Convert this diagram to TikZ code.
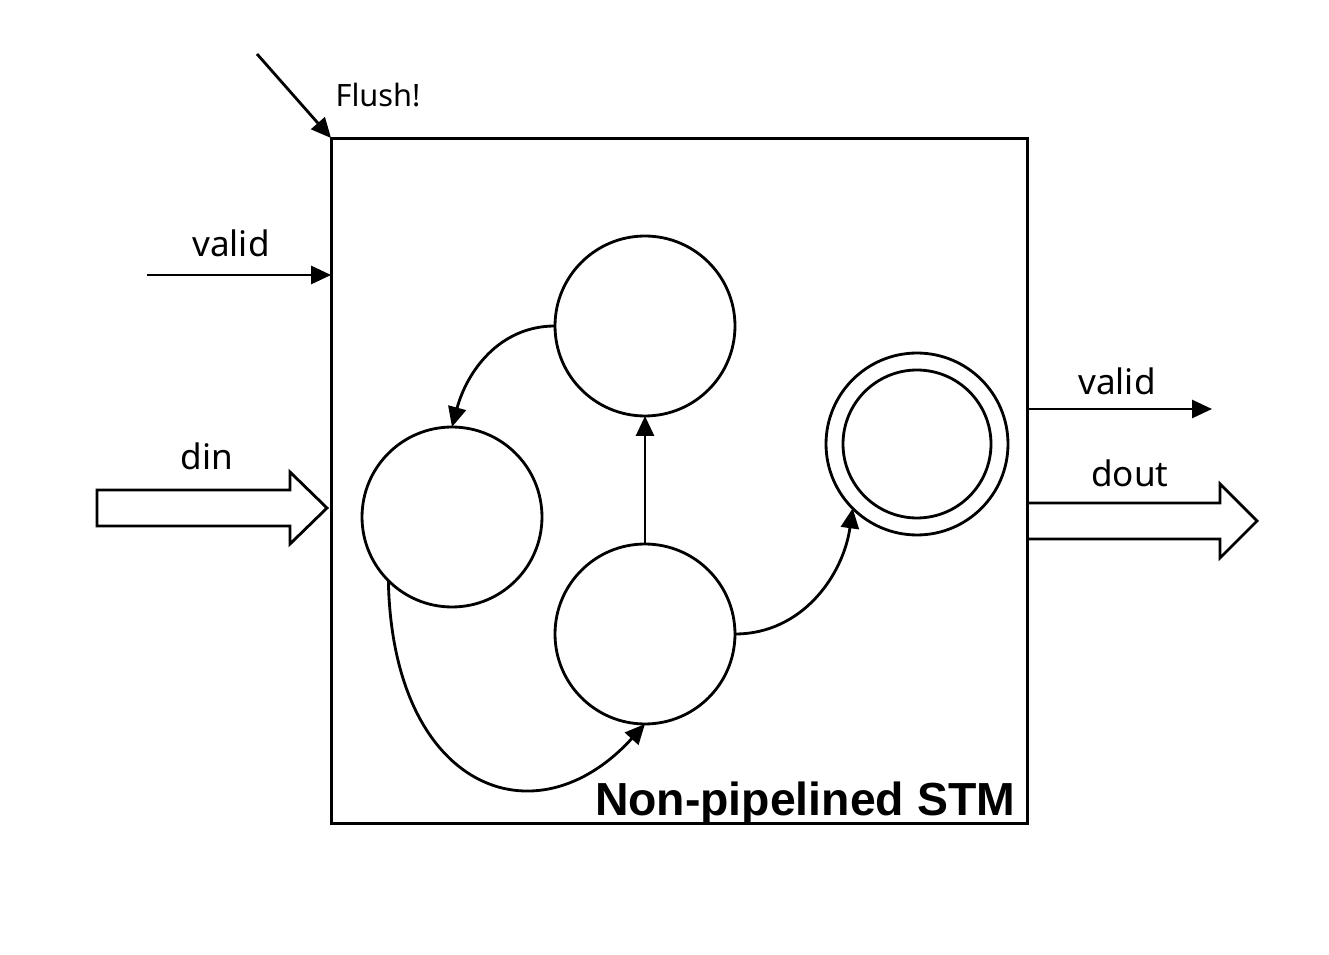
\documentclass[tikz,border=0pt]{standalone}
\usepackage{fontspec}
\setmainfont{Noto Sans}
\newfontfamily\titlefont{Liberation Sans}
\usetikzlibrary{arrows.meta,calc}
\begin{document}
\begin{tikzpicture}[x=0.02cm,y=-0.02cm,
  every node/.style={inner sep=0pt,outer sep=0pt},
  ln/.style={line width=1.6pt},
  tip/.style={-{Triangle[length=0.4cm,width=0.36cm]}},
  state/.style={draw,circle,ln,minimum size=3.6cm},
  lbl/.style={font=\fontsize{20pt}{24pt}\selectfont,anchor=base},
  fat/.style={ln,line join=miter}
]
\useasboundingbox (0,0) rectangle (1329,955);
% main box
\node[draw,line width=1.7pt,minimum width=13.94cm,minimum height=13.72cm] (box) at (679.5,481) {};
% states
\node[state] (top) at (645,326) {};
\node[state] (left) at (452,517) {};
\node[state] (bot) at (645,634) {};
\node[state,minimum size=3.64cm] (dbl) at (917,444) {};
\node[draw,circle,ln,minimum size=2.96cm] (dblin) at (917,444) {};
% transitions
\draw[ln,tip] (top.west) to[out=180,in=75] (left.north);
\draw[ln,tip] (bot.north) -- (top.south);
\draw[ln,tip] (bot.east) to[out=0,in=262] (dbl.225);
\draw[ln,tip] (left.225) .. controls +(4,208) and +(-110,121) .. (bot.south);
% flush
\coordinate (fl) at (257,54);
\draw[ln,tip] (fl) -- (box.north west);
\node[font=\fontsize{17.5pt}{20pt}\selectfont,anchor=base] (flt) at (378,107) {Flush!};
% valid in
\coordinate (vin) at (147,275);
\draw[ln,tip] (vin) -- (box.west |- vin);
\node[lbl] (vint) at (231,257) {valid};
% din
\coordinate (din0) at (97,508);
\draw[fat] ($(din0)+(0,-18)$) -- (290,490) -- (290,472) -- (327,508) -- (290,544) -- (290,526) -- ($(din0)+(0,18)$) -- cycle;
\node[lbl] (dint) at (207,470) {din};
% valid out
\coordinate (vout) at (1212,409);
\draw[ln,tip] (box.east |- vout) -- (vout);
\node[lbl] (voutt) at (1117,395) {valid};
% dout
\coordinate (dout0) at (1028,521);
\draw[fat] ($(dout0)+(0,-18)$) -- (1220,503) -- (1220,484) -- (1257,521) -- (1220,558) -- (1220,539) -- ($(dout0)+(0,18)$);
\node[lbl] (doutt) at (1130,487) {dout};
% title
\node[font=\titlefont\bfseries\fontsize{26.4pt}{30pt}\selectfont,anchor=base east] (title) at (1015,815) {Non-pipelined STM};
\end{tikzpicture}
\end{document}
